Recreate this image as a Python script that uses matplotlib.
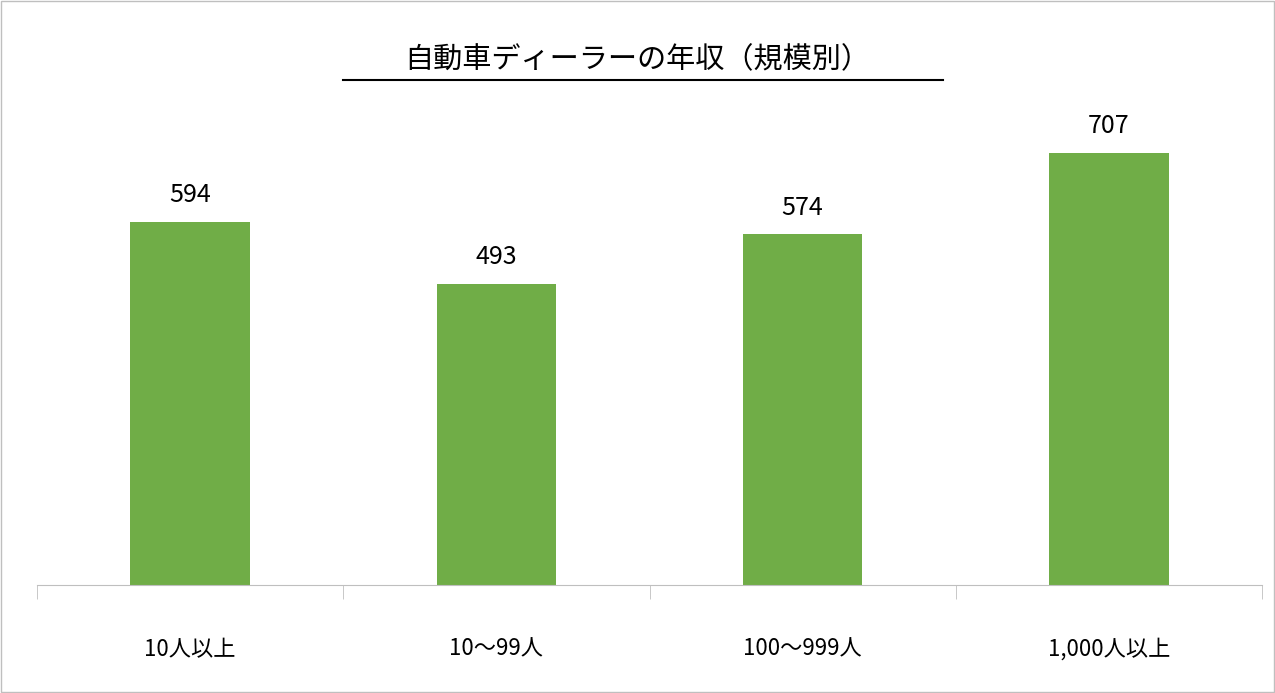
import matplotlib
matplotlib.use("Agg")
import matplotlib.pyplot as plt
from matplotlib.lines import Line2D
from matplotlib.patches import Rectangle

plt.rcParams['font.family'] = ['Noto Sans CJK JP', 'DejaVu Sans']

categories = ["10人以上", "10～99人", "100～999人", "1,000人以上"]
values = [594, 493, 574, 707]
title = "自動車ディーラーの年収（規模別）"

fig = plt.figure(figsize=(12.75, 6.93), dpi=100)
ax = fig.add_axes([37/1275, 1-585/693, 1225/1275, (585-96)/693])
x = range(len(categories))
ax.bar(x, values, width=0.39, color="#70AD47")
for xi, v in zip(x, values):
    ax.text(xi, v + 22, str(v), ha="center", va="bottom", fontsize=18, color="black")
ax.set_xlim(-0.5, len(categories) - 0.5)
ax.set_ylim(0, 800)
ax.set_yticks([])
ax.set_xticks(list(x))
ax.set_xticklabels(categories, fontsize=16)
ax.set_xticks([i - 0.5 for i in range(len(categories) + 1)], minor=True)
ax.tick_params(axis="x", which="major", length=0, pad=38)
ax.tick_params(axis="x", which="minor", length=10, color="#BFBFBF", direction="out")
for s in ["top", "right", "left"]:
    ax.spines[s].set_visible(False)
ax.spines["bottom"].set_color("#BFBFBF")

fig.text(0.5, 1-60/693, title, ha="center", va="center", fontsize=21)
fig.add_artist(Line2D([343/1275, 943/1275], [1-80/693, 1-80/693], color="black", lw=1.5))
fig.add_artist(Rectangle((0.001, 0.001), 0.998, 0.998, transform=fig.transFigure,
                         fill=False, edgecolor="#BFBFBF", lw=1))
fig.savefig("out.png", dpi=100)
